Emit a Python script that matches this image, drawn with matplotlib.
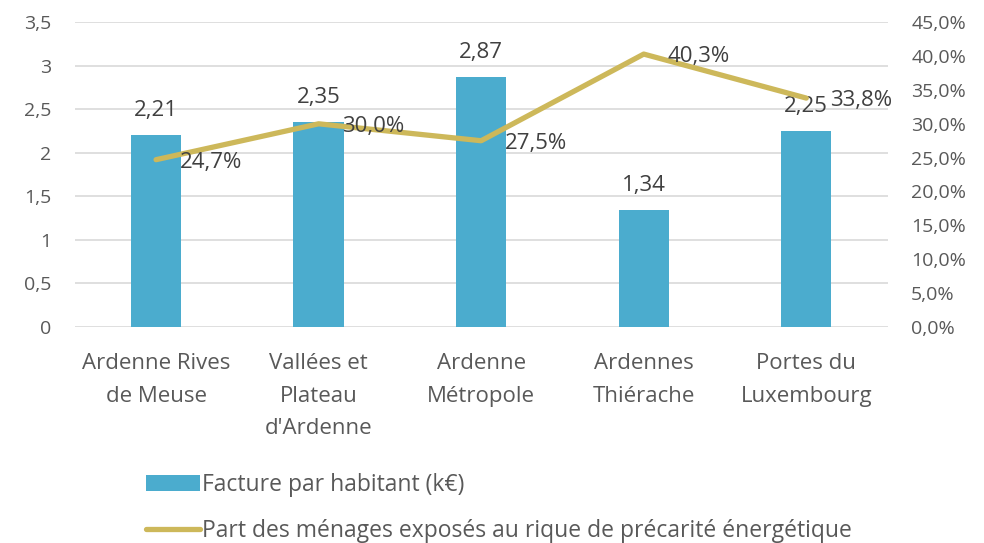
import matplotlib
matplotlib.use("Agg")
import matplotlib.pyplot as plt
from matplotlib.patches import Patch
from matplotlib.lines import Line2D

categories = ["Ardenne Rives\nde Meuse", "Vallées et\nPlateau\nd'Ardenne", "Ardenne\nMétropole",
              "Ardennes\nThiérache", "Portes du\nLuxembourg"]
facture = [2.21, 2.35, 2.87, 1.34, 2.25]
part = [0.247, 0.300, 0.275, 0.403, 0.338]
left_ticks = [0, 0.5, 1, 1.5, 2, 2.5, 3, 3.5]
right_ticks = [0, 0.05, 0.10, 0.15, 0.20, 0.25, 0.30, 0.35, 0.40, 0.45]

bar_color = "#4BACCE"
line_color = "#CDB85A"
tick_color = "#595959"
label_color = "#404040"

plt.rcParams['font.family'] = ['Open Sans', 'DejaVu Sans']

fig = plt.figure(figsize=(9.84, 5.43), dpi=100)
ax = fig.add_axes([0.076, 0.398, 0.826, 0.561])
ax2 = ax.twinx()

x = list(range(len(categories)))
ax.bar(x, facture, width=0.31, color=bar_color, zorder=2)
ax.set_ylim(0, 3.5)
ax.set_xlim(-0.5, len(categories) - 0.5)
ax.set_yticks(left_ticks)
ax.set_yticklabels([("%g" % v).replace(".", ",") for v in left_ticks])
ax.yaxis.grid(True, color="#D9D9D9", linewidth=1.2, zorder=0)
ax.set_axisbelow(True)
ax.set_xticks(x)
ax.set_xticklabels(categories, fontsize=16, color=tick_color, linespacing=1.72)
ax.tick_params(axis='x', length=0, pad=19)
ax.tick_params(axis='y', length=0, labelsize=14, labelcolor=tick_color, pad=17)
for s in ax.spines.values():
    s.set_visible(False)

for xi, v in zip(x, facture):
    ax.annotate(("%.2f" % v).replace(".", ","), (xi, v), xytext=(0, 10), textcoords="offset points",
                ha="center", va="bottom", fontsize=16, color=label_color)

ax2.plot(x, part, color=line_color, linewidth=3.8, solid_capstyle="round", zorder=3)
ax2.set_ylim(0, 0.45)
ax2.set_yticks(right_ticks)
ax2.set_yticklabels([("%.1f%%" % (v * 100)).replace(".", ",") for v in right_ticks])
ax2.tick_params(axis='y', length=0, labelsize=14, labelcolor=tick_color, pad=17)
for s in ax2.spines.values():
    s.set_visible(False)

for xi, v in zip(x, part):
    ax2.annotate(("%.1f%%" % (v * 100)).replace(".", ","), (xi, v), xytext=(17, -2), textcoords="offset points",
                 ha="left", va="center", fontsize=16, color=label_color)

handles = [Patch(facecolor=bar_color, edgecolor='none'),
           Line2D([0], [0], color=line_color, linewidth=3.8, solid_capstyle="round")]
labels = ["Facture par habitant (k€)", "Part des ménages exposés au rique de précarité énergétique"]
fig.legend(handles, labels, loc="upper left", bbox_to_anchor=(0.139, 0.145), frameon=False,
           fontsize=16.5, labelcolor=tick_color, handlelength=2.35, handletextpad=0.1,
           labelspacing=0.95, borderaxespad=0)

fig.savefig("out.png", dpi=100)
